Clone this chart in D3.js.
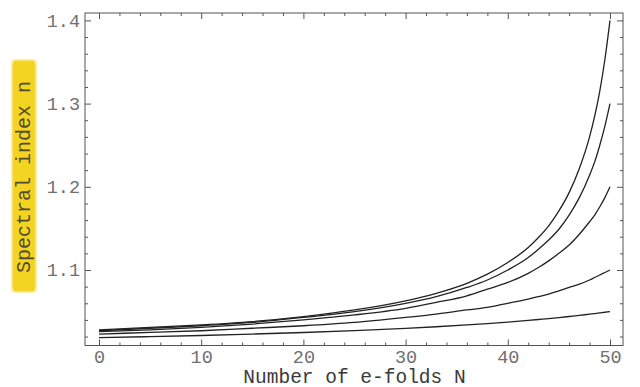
<!DOCTYPE html>
<html>
<head>
<meta charset="utf-8">
<script src="https://cdn.jsdelivr.net/npm/d3@7"></script>
<style>
  body { margin: 0; background: #fff; }
</style>
</head>
<body>
<script>
// ---------------------- data ----------------------
var efolds = [0, 5, 10, 15, 20, 25, 30, 33, 36, 38, 40, 42, 43, 44, 45, 46, 47, 48, 48.5, 49, 49.5, 50];

var n_a = [1.028, 1.031, 1.034, 1.038, 1.044, 1.052, 1.063, 1.072, 1.084, 1.095, 1.109, 1.127, 1.139, 1.153, 1.171, 1.193, 1.222, 1.260, 1.285, 1.315, 1.353, 1.400];
var n_b = [1.027, 1.030, 1.033, 1.037, 1.043, 1.050, 1.060, 1.068, 1.079, 1.088, 1.100, 1.115, 1.125, 1.136, 1.149, 1.166, 1.187, 1.214, 1.230, 1.250, 1.273, 1.300];
var n_c = [1.026, 1.028, 1.031, 1.035, 1.040, 1.046, 1.054, 1.061, 1.069, 1.077, 1.085, 1.096, 1.103, 1.111, 1.120, 1.130, 1.143, 1.158, 1.166, 1.176, 1.187, 1.200];
var n_d = [1.023, 1.025, 1.027, 1.030, 1.033, 1.037, 1.043, 1.047, 1.052, 1.055, 1.060, 1.065, 1.068, 1.071, 1.075, 1.079, 1.083, 1.088, 1.091, 1.094, 1.097, 1.100];
var n_e = [1.0187, 1.0199, 1.0213, 1.0230, 1.0249, 1.0272, 1.0299, 1.0318, 1.0340, 1.0356, 1.0374, 1.0394, 1.0405, 1.0416, 1.0428, 1.0441, 1.0454, 1.0469, 1.0476, 1.0484, 1.0492, 1.0500];

var xMajor = [0, 10, 20, 30, 40, 50];
var yMajor = [1.1, 1.2, 1.3, 1.4];
var xMinor = [2, 4, 6, 8, 12, 14, 16, 18, 22, 24, 26, 28, 32, 34, 36, 38, 42, 44, 46, 48];
var yMinor = [1.02, 1.04, 1.06, 1.08, 1.12, 1.14, 1.16, 1.18, 1.22, 1.24, 1.26, 1.28, 1.32, 1.34, 1.36, 1.38];

// ---------------------- layout ----------------------
var W = 640, H = 387;
var frameL = 85, frameR = 623, frameT = 13, frameB = 345.5;

var svg = d3.select("body")
     .append("svg")
     .attr("width", W)
     .attr("height", H);

var x = d3.scaleLinear().domain([0, 50]).range([99, 610]);
var y = d3.scaleLinear().domain([1.1, 1.4]).range([270, 20.4]);

var font = "'Liberation Mono', 'Courier New', monospace";

// ---------------------- frame + ticks ----------------------
svg.append("rect")
     .attr("x", frameL).attr("y", frameT)
     .attr("width", frameR - frameL).attr("height", frameB - frameT)
     .attr("fill", "none")
     .attr("stroke", "#555")
     .attr("stroke-width", 1);

function tickLayer(axis, tx, ty) {
  var g = svg.append("g").attr("transform", "translate(" + tx + "," + ty + ")").call(axis);
  g.select(".domain").remove();
  g.selectAll("line").attr("stroke", "#555");
  return g;
}

// minor ticks, all four sides
tickLayer(d3.axisBottom(x).tickValues(xMinor).tickSize(-3).tickFormat(""), 0, frameB);
tickLayer(d3.axisTop(x).tickValues(xMinor).tickSize(-3).tickFormat(""), 0, frameT);
tickLayer(d3.axisLeft(y).tickValues(yMinor).tickSize(-3).tickFormat(""), frameL, 0);
tickLayer(d3.axisRight(y).tickValues(yMinor).tickSize(-3).tickFormat(""), frameR, 0);

// major ticks
tickLayer(d3.axisBottom(x).tickValues(xMajor).tickSize(-6).tickPadding(4).tickFormat(d3.format("d")), 0, frameB);
tickLayer(d3.axisTop(x).tickValues(xMajor).tickSize(-6).tickFormat(""), 0, frameT);
tickLayer(d3.axisLeft(y).tickValues(yMajor).tickSize(-6).tickPadding(5).tickFormat(d3.format(".1f")), frameL, 0);
tickLayer(d3.axisRight(y).tickValues(yMajor).tickSize(-6).tickFormat(""), frameR, 0);

svg.selectAll(".tick text")
     .style("font-family", font)
     .style("font-size", "18.5px")
     .attr("fill", "#707070");

// ---------------------- curves ----------------------
var series = [n_a, n_b, n_c, n_d, n_e];
var line = d3.line()
     .x(function(d, i) { return x(efolds[i]); })
     .y(function(d) { return y(d); })
     .curve(d3.curveMonotoneX);

svg.selectAll("path.curve")
     .data(series)
     .enter()
     .append("path")
     .attr("class", "curve")
     .attr("d", line)
     .attr("fill", "none")
     .attr("stroke", "#222")
     .attr("stroke-width", 1.3);

// ---------------------- axis labels ----------------------
svg.append("text")
     .text("Number of e-folds N")
     .style("font-family", font)
     .style("font-size", "19.5px")
     .attr("fill", "#3a3a3a")
     .attr("text-anchor", "middle")
     .attr("x", (x(0) + x(50)) / 2)
     .attr("y", 382.5);

// yellow highlighter behind the y label
var defs = svg.append("defs");
defs.append("filter").attr("id", "soft")
     .append("feGaussianBlur").attr("stdDeviation", 1.3);

svg.append("rect")
     .attr("x", 12).attr("y", 60)
     .attr("width", 24).attr("height", 232)
     .attr("rx", 4)
     .attr("fill", "#f4d424")
     .attr("filter", "url(#soft)");

svg.append("text")
     .text("Spectral index n")
     .style("font-family", font)
     .style("font-size", "20px")
     .attr("fill", "#524c2c")
     .attr("text-anchor", "middle")
     .attr("dominant-baseline", "central")
     .attr("transform", "translate(24,177) rotate(-90)");
</script>
</body>
</html>
